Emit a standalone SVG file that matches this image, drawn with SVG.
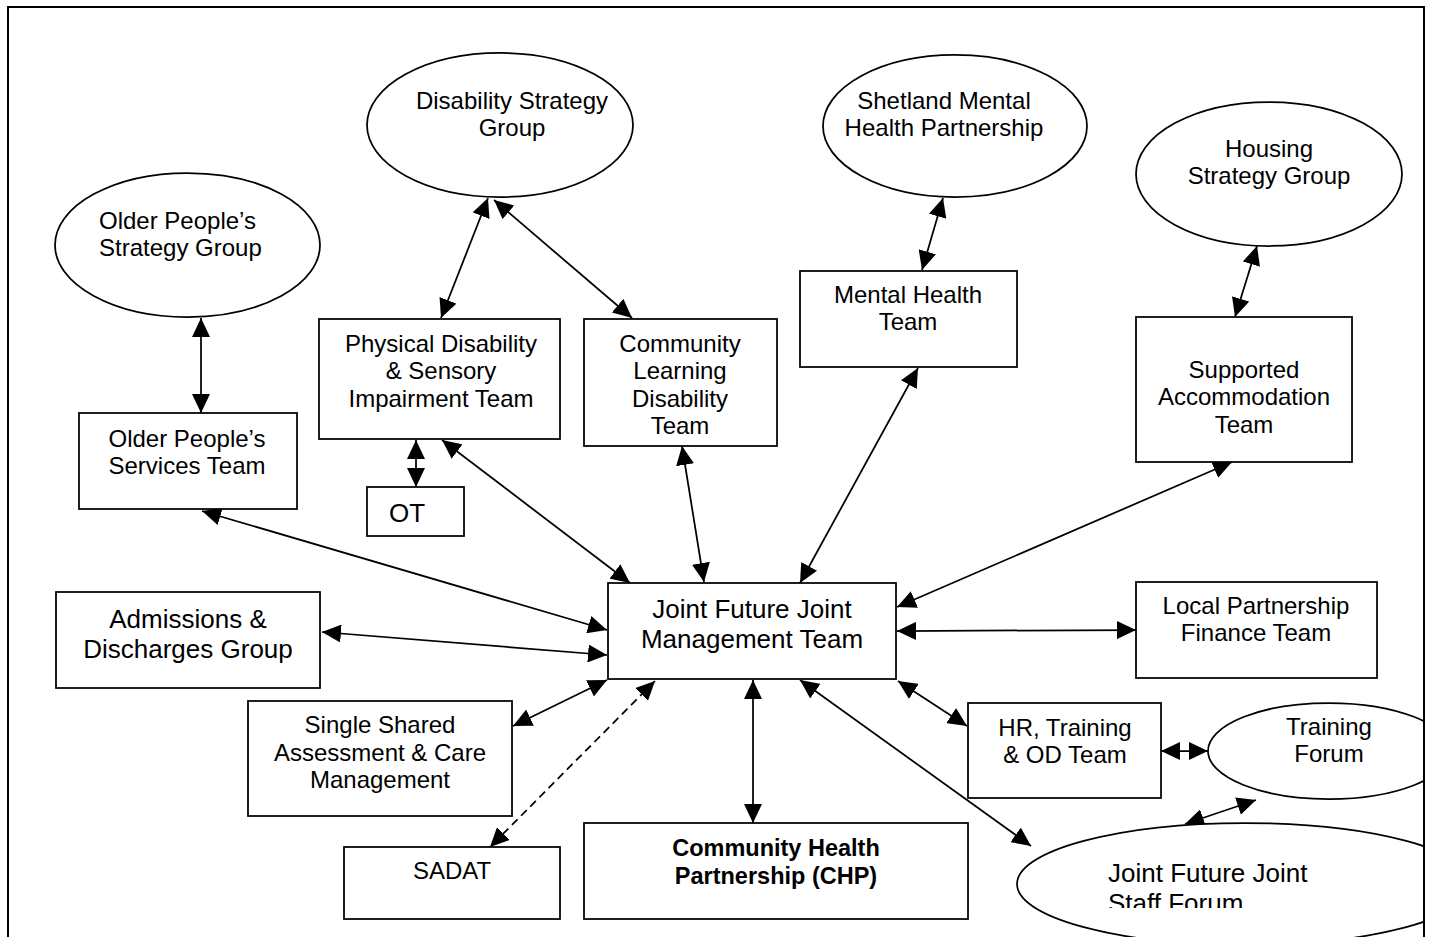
<svg xmlns="http://www.w3.org/2000/svg" width="1431" height="937" viewBox="0 0 1431 937">
  <defs>
    <style>
      .box { fill: #fff; stroke: #000; stroke-width: 1.75; }
      .oval { fill: #fff; stroke: #000; stroke-width: 1.75; }
      .lbl { font-family: "Liberation Sans", Arial, sans-serif; font-size: 24px; fill: #000; text-anchor: middle; }
      .big { font-size: 26px; }
      .bold { font-size: 23.5px; font-weight: bold; }
      .link { fill: none; stroke: #000; stroke-width: 1.75; marker-start: url(#head); marker-end: url(#head); }
      .dash { stroke-dasharray: 8 5; }
    </style>
    <marker id="head" markerUnits="userSpaceOnUse" markerWidth="20" markerHeight="18" refX="19" refY="9" orient="auto-start-reverse">
      <path d="M0,0 L19,9 L0,18 Z" fill="#000"/>
    </marker>
    <clipPath id="frameClip">
      <rect x="0" y="0" width="1424" height="937"/>
    </clipPath>
    <clipPath id="staffTextClip">
      <rect x="1017" y="823" width="407" height="85"/>
    </clipPath>
  </defs>

  <rect width="1431" height="937" fill="#fff"/>

  <!-- outer frame -->
  <rect x="8" y="7" width="1416" height="945" fill="none" stroke="#000" stroke-width="2"/>

  <!-- connectors -->
  <g id="connectors">
    <line class="link" x1="201" y1="318" x2="201" y2="413"/>
    <line class="link" x1="488" y1="198" x2="441" y2="318"/>
    <line class="link" x1="494" y1="200" x2="632" y2="318"/>
    <line class="link" x1="416" y1="440" x2="416" y2="487"/>
    <line class="link" x1="442" y1="440" x2="630" y2="583"/>
    <line class="link" x1="202" y1="511" x2="607" y2="630"/>
    <line class="link" x1="322" y1="632" x2="607" y2="655"/>
    <line class="link" x1="682" y1="446" x2="704" y2="582"/>
    <line class="link" x1="918" y1="368" x2="800" y2="583"/>
    <line class="link" x1="943" y1="198" x2="922" y2="270"/>
    <line class="link" x1="1257" y1="246" x2="1235" y2="317"/>
    <line class="link" x1="1232" y1="462" x2="897" y2="607"/>
    <line class="link" x1="897" y1="631" x2="1136" y2="630"/>
    <line class="link" x1="898" y1="681" x2="967" y2="726"/>
    <line class="link" x1="800" y1="680" x2="1031" y2="846"/>
    <line class="link" x1="753" y1="680" x2="753" y2="823"/>
    <line class="link" x1="607" y1="680" x2="513" y2="726"/>
    <line class="link dash" x1="655" y1="681" x2="490" y2="847"/>
    <line class="link" x1="1161" y1="751" x2="1208" y2="751"/>
    <line class="link" x1="1256" y1="800" x2="1185" y2="824"/>
  </g>

  <!-- nodes -->
  <g id="disability-strategy-group">
    <ellipse class="oval" cx="500" cy="125" rx="133" ry="72"/>
    <text class="lbl" x="512" y="109">Disability Strategy</text>
    <text class="lbl" x="512" y="136">Group</text>
  </g>

  <g id="older-peoples-strategy-group">
    <ellipse class="oval" cx="187.5" cy="245" rx="132.5" ry="72"/>
    <text class="lbl" x="99" y="229" style="text-anchor:start">Older People’s</text>
    <text class="lbl" x="99" y="256" style="text-anchor:start">Strategy Group</text>
  </g>

  <g id="shetland-mental-health-partnership">
    <ellipse class="oval" cx="955" cy="126" rx="132" ry="71"/>
    <text class="lbl" x="944" y="109">Shetland Mental</text>
    <text class="lbl" x="944" y="136">Health Partnership</text>
  </g>

  <g id="housing-strategy-group">
    <ellipse class="oval" cx="1269" cy="174" rx="133" ry="72"/>
    <text class="lbl" x="1269" y="157">Housing</text>
    <text class="lbl" x="1269" y="184">Strategy Group</text>
  </g>

  <g id="older-peoples-services-team">
    <rect class="box" x="79" y="413" width="218" height="96"/>
    <text class="lbl" x="187" y="447">Older People’s</text>
    <text class="lbl" x="187" y="474">Services Team</text>
  </g>

  <g id="physical-disability-team">
    <rect class="box" x="319" y="319" width="241" height="120"/>
    <text class="lbl" x="441" y="352">Physical Disability</text>
    <text class="lbl" x="441" y="379">&amp; Sensory</text>
    <text class="lbl" x="441" y="407">Impairment Team</text>
  </g>

  <g id="community-learning-disability-team">
    <rect class="box" x="584" y="319" width="193" height="127"/>
    <text class="lbl" x="680" y="352">Community</text>
    <text class="lbl" x="680" y="379">Learning</text>
    <text class="lbl" x="680" y="407">Disability</text>
    <text class="lbl" x="680" y="434">Team</text>
  </g>

  <g id="mental-health-team">
    <rect class="box" x="800" y="271" width="217" height="96"/>
    <text class="lbl" x="908" y="303">Mental Health</text>
    <text class="lbl" x="908" y="330">Team</text>
  </g>

  <g id="supported-accommodation-team">
    <rect class="box" x="1136" y="317" width="216" height="145"/>
    <text class="lbl" x="1244" y="378">Supported</text>
    <text class="lbl" x="1244" y="405">Accommodation</text>
    <text class="lbl" x="1244" y="433">Team</text>
  </g>

  <g id="ot">
    <rect class="box" x="367" y="487" width="97" height="49"/>
    <text class="lbl big" x="389" y="522" style="text-anchor:start">OT</text>
  </g>

  <g id="admissions-discharges-group">
    <rect class="box" x="56" y="592" width="264" height="96"/>
    <text class="lbl big" x="188" y="628">Admissions &amp;</text>
    <text class="lbl big" x="188" y="658">Discharges Group</text>
  </g>

  <g id="joint-management-team">
    <rect class="box" x="608" y="583" width="288" height="96"/>
    <text class="lbl big" x="752" y="618">Joint Future Joint</text>
    <text class="lbl big" x="752" y="648">Management Team</text>
  </g>

  <g id="local-partnership-finance-team">
    <rect class="box" x="1136" y="582" width="241" height="96"/>
    <text class="lbl" x="1256" y="614">Local Partnership</text>
    <text class="lbl" x="1256" y="641">Finance Team</text>
  </g>

  <g id="single-shared-assessment">
    <rect class="box" x="248" y="701" width="264" height="115"/>
    <text class="lbl" x="380" y="733">Single Shared</text>
    <text class="lbl" x="380" y="761">Assessment &amp; Care</text>
    <text class="lbl" x="380" y="788">Management</text>
  </g>

  <g id="sadat">
    <rect class="box" x="344" y="847" width="216" height="72"/>
    <text class="lbl" x="452" y="879">SADAT</text>
  </g>

  <g id="community-health-partnership">
    <rect class="box" x="584" y="823" width="384" height="96"/>
    <text class="lbl bold" x="776" y="856">Community Health</text>
    <text class="lbl bold" x="776" y="884">Partnership (CHP)</text>
  </g>

  <g id="hr-training-od-team">
    <rect class="box" x="968" y="703" width="193" height="95"/>
    <text class="lbl" x="1065" y="736">HR, Training</text>
    <text class="lbl" x="1065" y="763">&amp; OD Team</text>
  </g>

  <g id="training-forum">
    <ellipse class="oval" cx="1329" cy="751" rx="121" ry="48" clip-path="url(#frameClip)"/>
    <text class="lbl" x="1329" y="735">Training</text>
    <text class="lbl" x="1329" y="762">Forum</text>
  </g>

  <g id="joint-staff-forum">
    <ellipse class="oval" cx="1245" cy="884" rx="228" ry="61" clip-path="url(#frameClip)"/>
    <g clip-path="url(#staffTextClip)">
      <text class="lbl big" x="1108" y="882" style="text-anchor:start">Joint Future Joint</text>
      <text class="lbl big" x="1108" y="912" style="text-anchor:start">Staff Forum</text>
    </g>
  </g>

  <!-- right frame edge redrawn over clipped shapes -->
  <line x1="1424" y1="7" x2="1424" y2="937" stroke="#000" stroke-width="2"/>
</svg>
